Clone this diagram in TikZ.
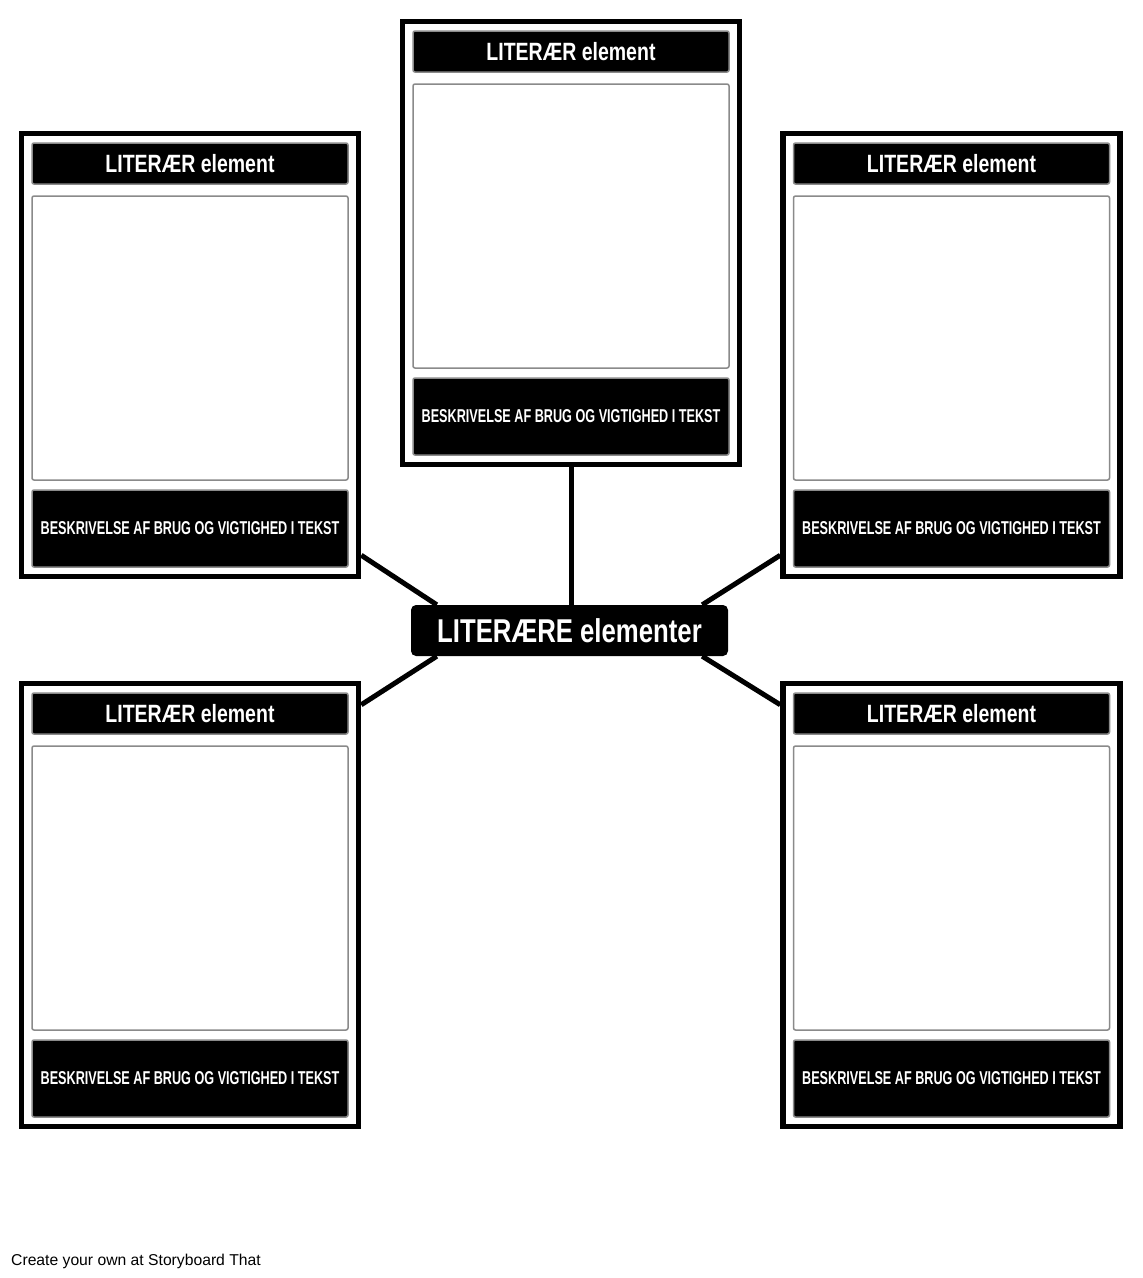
\documentclass[tikz,border=0pt]{standalone}
\usepackage{fontspec}
\setmainfont{Liberation Sans}
\newfontfamily\cardfont{Liberation Sans}[FakeStretch=0.78]
\newfontfamily\descfont{Liberation Sans}[FakeStretch=0.68]
\definecolor{rimgray}{HTML}{8A8A8A}
\tikzset{
  card/.style={draw=black, fill=white, line width=5.5pt, minimum width=337pt, minimum height=443pt, inner sep=0pt},
  cardhead/.style={draw=rimgray, fill=black, line width=1.5pt, rounded corners=2pt, minimum width=316pt, minimum height=41pt, inner sep=0pt, text=white, font=\cardfont\bfseries\fontsize{25}{30}\selectfont},
  cardpic/.style={draw=rimgray, fill=white, line width=1.5pt, rounded corners=2pt, minimum width=316pt, minimum height=284pt, inner sep=0pt},
  carddesc/.style={draw=rimgray, fill=black, line width=1.5pt, rounded corners=2pt, minimum width=316pt, minimum height=77pt, inner sep=0pt, text=white, font=\descfont\bfseries\fontsize{18.6}{22}\selectfont},
  hub/.style={fill=black, rounded corners=5pt, minimum width=317pt, minimum height=51pt, inner sep=0pt, text=white, font=\cardfont\bfseries\fontsize{33}{38}\selectfont},
  spoke/.style={line width=5pt}
}
\begin{document}
\begin{tikzpicture}[x=1pt, y=-1pt]
  \useasboundingbox (0,0) rectangle (1143,1278);

  % five cards
  \foreach \nm/\cx/\cy in {top/571/243, tl/190/355, tr/951.5/355, bl/190/905, br/951.5/905}{
    \node[card] (\nm) at (\cx,\cy) {};
    \node[cardhead] (\nm-head) at (\cx,\cy-191.5) {LITERÆR element};
    \node[cardpic] (\nm-pic) at (\cx,\cy-17) {};
    \node[carddesc] (\nm-desc) at (\cx,\cy+173.5) {BESKRIVELSE AF BRUG OG VIGTIGHED I TEKST};
  }

  \node[hub] (ctr) at (569.5,630.5) {LITERÆRE elementer};

  \draw[spoke] (top.south) -- (top.south |- ctr.north);
  \draw[spoke] ([xshift=26pt]ctr.north west) -- ([yshift=24pt]tl.south east);
  \draw[spoke] ([xshift=-26pt]ctr.north east) -- ([yshift=24pt]tr.south west);
  \draw[spoke] ([xshift=26pt]ctr.south west) -- ([yshift=-24pt]bl.north east);
  \draw[spoke] ([xshift=-26pt]ctr.south east) -- ([yshift=-24pt]br.north west);

  \node[anchor=base west, inner sep=0pt, font=\fontsize{15.7}{18}\selectfont] (credit) at (11,1265) {Create your own at Storyboard That};
\end{tikzpicture}
\end{document}
